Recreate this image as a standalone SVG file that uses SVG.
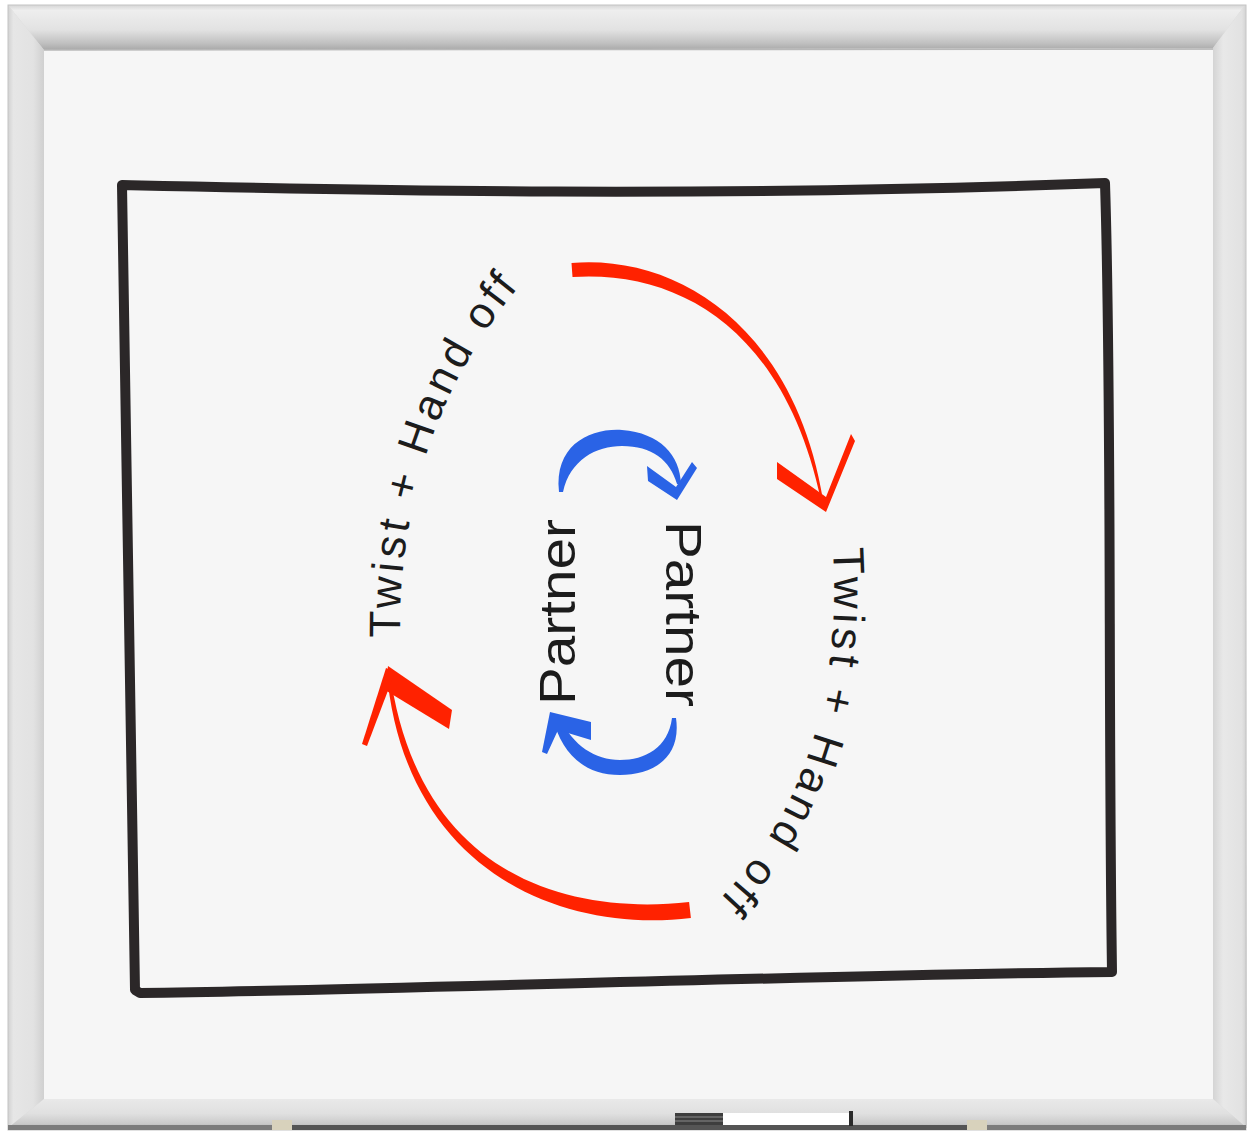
<svg xmlns="http://www.w3.org/2000/svg" width="1251" height="1134" viewBox="0 0 1251 1134">
<defs>
<linearGradient id="gTop" x1="0" y1="0" x2="0" y2="1">
<stop offset="0" stop-color="#d6d6d6"/><stop offset="0.12" stop-color="#eeeeee"/><stop offset="0.55" stop-color="#e2e2e2"/><stop offset="0.85" stop-color="#c0c0c0"/><stop offset="1" stop-color="#a8a8a8"/>
</linearGradient>
<linearGradient id="gLeft" x1="0" y1="0" x2="1" y2="0">
<stop offset="0" stop-color="#d2d2d2"/><stop offset="0.15" stop-color="#e6e6e6"/><stop offset="0.7" stop-color="#e2e2e2"/><stop offset="1" stop-color="#d0d0d0"/>
</linearGradient>
<linearGradient id="gRight" x1="0" y1="0" x2="1" y2="0">
<stop offset="0" stop-color="#d4d4d4"/><stop offset="0.3" stop-color="#e8e8e8"/><stop offset="0.85" stop-color="#e2e2e2"/><stop offset="1" stop-color="#cfcfcf"/>
</linearGradient>
<linearGradient id="gBot" x1="0" y1="0" x2="0" y2="1">
<stop offset="0" stop-color="#e9e9e9"/><stop offset="0.5" stop-color="#e0e0e0"/><stop offset="0.85" stop-color="#cacaca"/><stop offset="1" stop-color="#b0b0b0"/>
</linearGradient>
<path id="arcL" d="M 400,638 Q 398,430 522,283"/>
<path id="arcR" d="M 833,548 Q 846,775 712,907"/>
</defs>
<style>
.red{fill:#ff2200}
.blue{fill:#2a63e6}
.lbl{font-family:"Liberation Sans","DejaVu Sans",sans-serif;fill:#1c1c1c}
.frameEdge{stroke:#c4c4c4;stroke-width:1}
</style>
<rect x="0" y="0" width="1251" height="1134" fill="#ffffff"/>
<g id="whiteboard">
<rect x="8" y="5" width="1238" height="1125" fill="#d8d8d8"/>
<polygon points="8,5 1245,5 1213,48 44,50" fill="url(#gTop)"/>
<polygon points="8,5 44,50 44,1099 8,1128" fill="url(#gLeft)"/>
<polygon points="1245,5 1213,48 1213,1099 1247,1128" fill="url(#gRight)"/>
<polygon points="8,1128 44,1099 1213,1099 1247,1128" fill="url(#gBot)"/>
<rect x="44" y="50" width="1169" height="1049" fill="#f6f6f6"/>
<rect x="8" y="5" width="1238" height="1125" fill="none" class="frameEdge"/>
<line x1="44" y1="50" x2="1213" y2="49" stroke="#b8b8b8" stroke-width="1.5"/>
<rect x="8" y="1125" width="1238" height="5" fill="#7c7c7c"/>
<rect x="290" y="1125" width="678" height="5" fill="#555555"/>
<rect x="272" y="1120" width="20" height="10" fill="#d8d2bc"/>
<rect x="967" y="1120" width="20" height="10" fill="#d8d2bc"/>
<g id="marker">
<rect x="675" y="1113" width="48" height="12" fill="#3e3e3e"/>
<line x1="675" y1="1117" x2="723" y2="1117" stroke="#8a8a8a" stroke-width="1.2"/>
<line x1="675" y1="1121" x2="723" y2="1121" stroke="#8a8a8a" stroke-width="1.2"/>
<rect x="723" y="1113" width="127" height="12" fill="#ffffff"/>
<rect x="849" y="1111" width="4" height="15" fill="#2a2a2a"/>
</g>
</g>
<g id="box">
<path d="M 122,185 C 350,190 700,198 1105,183 C 1112,400 1108,700 1112,972 C 800,975 400,990 140,993 L 135,990 C 130,700 128,400 122,185 Z" fill="none" stroke="#2b2728" stroke-width="10" stroke-linejoin="round" stroke-linecap="round"/>
</g>
<g id="connectors">
<g id="arrow-top-red">
<path class="red" d="M 571.5,263 C 679.4,254 794.9,329.1 823,499.8 L 821,500.2 C 785.1,330.9 680.6,270 572.5,277 Z"/>
<path class="red" d="M 777,462 L 826,497 L 851,434 L 855,441 L 826,512 L 777,479 Z"/>
</g>
<g id="arrow-bottom-red">
<path class="red" d="M 690.9,917.9 C 561,933.9 404,870.7 386.5,670.2 L 389.5,669.8 C 416,869.3 559,916.1 689.1,902.1 Z"/>
<path class="red" d="M 388,666 L 452,710 L 449,729 L 385,690 Z"/>
<path class="red" d="M 386,668 L 395,672 L 367,746 L 362,744 Z"/>
</g>
<g id="arrow-top-blue">
<path class="blue" d="M 559,492 C 554,445 590,428 622,430 C 660,433 680,455 681,484 L 677,484 C 670,460 652,446 622,446 C 596,446 570,460 563,492 Z"/>
<path class="blue" d="M 647,466 L 676,487 L 692,462 L 697,468 L 677,500 L 648,481 Z"/>
</g>
<g id="arrow-bottom-blue">
<path class="blue" d="M 676,718 C 682,760 650,775 620,775 C 585,775 562,755 552,716 L 561,720 C 573,745 595,760 620,760 C 645,760 668,748 672,718 Z"/>
<path class="blue" d="M 542,752 L 550,712 L 591,722 L 591,740 L 558,730 L 547,754 Z"/>
</g>
</g>
<g id="node-partner-left">
<text class="lbl" transform="translate(575,612) rotate(-90)" text-anchor="middle" font-size="50" textLength="186" lengthAdjust="spacingAndGlyphs">Partner</text>
</g>
<g id="node-partner-right">
<text class="lbl" transform="translate(666,614) rotate(90)" text-anchor="middle" font-size="50" textLength="186" lengthAdjust="spacingAndGlyphs">Partner</text>
</g>
<g id="label-left">
<text class="lbl" font-size="44"><textPath href="#arcL" textLength="378" lengthAdjust="spacing">Twist + Hand off</textPath></text>
</g>
<g id="label-right">
<text class="lbl" font-size="44"><textPath href="#arcR" textLength="380" lengthAdjust="spacing">Twist + Hand off</textPath></text>
</g>
</svg>
